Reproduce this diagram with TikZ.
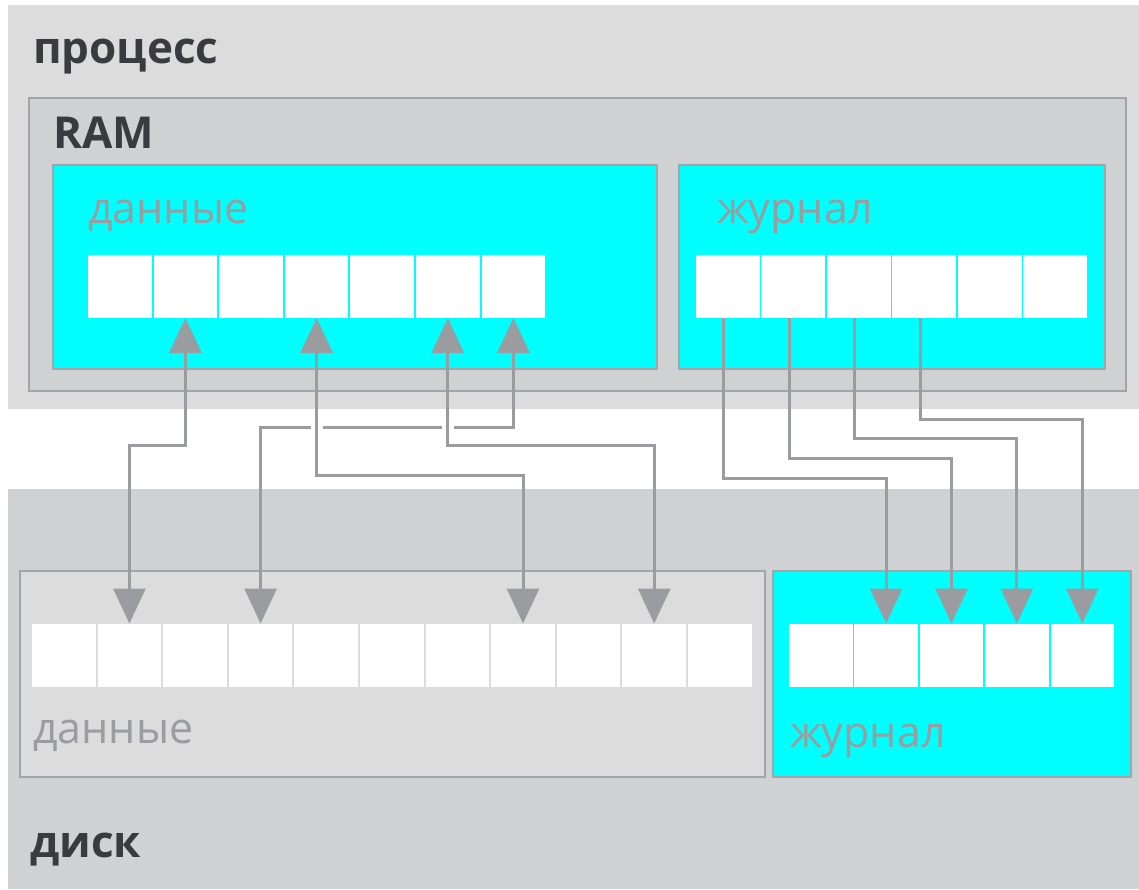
\documentclass[tikz,border=0pt]{standalone}
\usepackage{fontspec}
\setmainfont{Open Sans}
\usetikzlibrary{calc,arrows.meta}
\definecolor{procbg}{HTML}{DCDCDC}
\definecolor{rambg}{HTML}{D0D1D3}
\definecolor{edge}{HTML}{A2A4A8}
\definecolor{memcyan}{HTML}{00FFFF}
\definecolor{ink}{HTML}{393B3F}
\definecolor{muted}{HTML}{9A9CA0}
\tikzset{
  >={Triangle[width=32pt,length=35pt]},
  box/.style={draw=edge, line width=1.5pt},
  cell/.style={fill=white, minimum width=63.6pt, minimum height=63pt, inner sep=0pt, outer sep=0pt},
  title/.style={text=ink, font=\fontsize{44}{50}\selectfont\bfseries, anchor=base west, inner sep=0pt},
  lab/.style={text=muted, font=\fontsize{43}{49}\selectfont, anchor=base west, inner sep=0pt},
  conn/.style={draw=muted, line width=3pt, ->},
  both/.style={draw=muted, line width=3pt, <->},
  gap/.style={draw=white, line width=12pt},
}

\begin{document}
\begin{tikzpicture}[x=1pt,y=-1pt]
\useasboundingbox (0,0) rectangle (1139,889);
\fill[white] (0,0) rectangle (1139,889);

% process / RAM
\fill[procbg] (8,5) rectangle (1139,409);
\node[title] (proc) at (33,63) {процесс};
\filldraw[fill=rambg, box] (29,98) rectangle (1126,391);
\node[title] (ram) at (53,148) {RAM};
\filldraw[fill=memcyan, box] (53,165) rectangle (657,369);
\filldraw[fill=memcyan, box] (679,165) rectangle (1105,369);
\node[lab] (rdlab) at (88,223) {данные};
\node[lab] (rjlab) at (717,223) {журнал};
\foreach \i in {1,...,7}
  \node[cell] (rd\i) at ({87+65.6*(\i-0.5)},286.5) {};
\foreach \i in {1,...,6}
  \node[cell] (rj\i) at ({695+65.5*(\i-0.5)},286.5) {};

% disk
\fill[rambg] (8,489) rectangle (1139,889);
\filldraw[fill=procbg, box] (20,571) rectangle (765,777);
\filldraw[fill=memcyan, box] (773,571) rectangle (1131,777);
\foreach \i in {1,...,11}
  \node[cell] (dd\i) at ({31+65.6*(\i-0.5)},655) {};
\foreach \i in {1,...,5}
  \node[cell] (dj\i) at ({788+65.4*(\i-0.5)},655) {};
\node[lab] (ddlab) at (33,743) {данные};
\node[lab] (djlab) at (790,747) {журнал};
\node[title] (disk) at (30,857) {диск};

% data links
\coordinate (lvA) at (0,445);
\coordinate (lvB) at (0,475);
\coordinate (lvC) at (0,427);
\draw[both] (rd7.south) -- (rd7 |- lvC) -| (dd4.north);
\draw[gap] ($(rd4 |- lvC)+(0,-4)$) -- ++(0,8);
\draw[gap] ($(rd6 |- lvC)+(0,-4)$) -- ++(0,8);
\draw[both] (rd2.south) -- (rd2 |- lvA) -| (dd2.north);
\draw[both] (rd4.south) -- (rd4 |- lvB) -| (dd8.north);
\draw[both] (rd6.south) -- (rd6 |- lvA) -| (dd10.north);

% journal links
\foreach \s/\t/\y in {1/2/478, 2/3/458, 3/4/438, 4/5/419} {
  \coordinate (jl\s) at (0,\y);
  \draw[conn] ($(rj\s.south)+(-4,0)$) coordinate (js\s) -- (js\s |- jl\s) -| (dj\t.north);
}
\end{tikzpicture}
\end{document}
